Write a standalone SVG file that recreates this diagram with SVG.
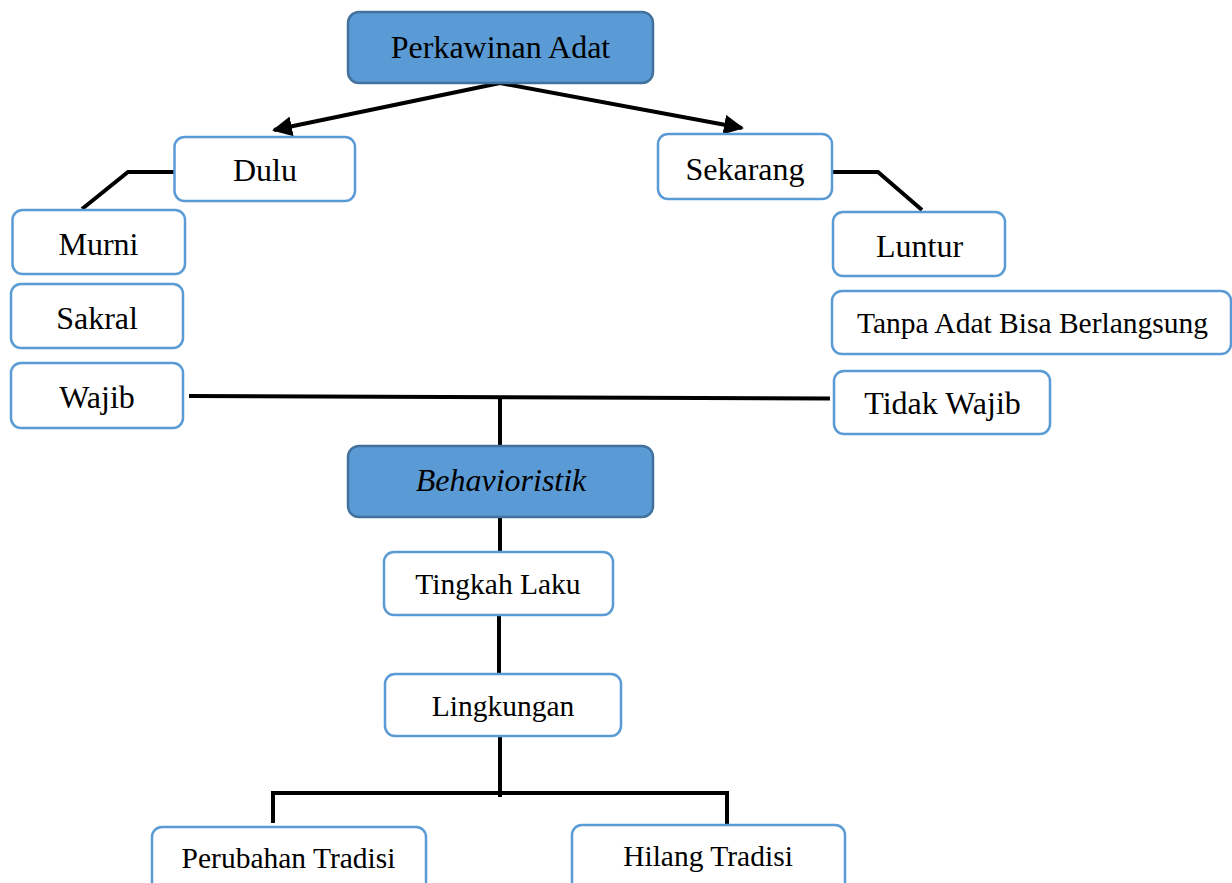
<svg xmlns="http://www.w3.org/2000/svg" width="1232" height="883" viewBox="0 0 1232 883">
<style>
.box{fill:#ffffff;stroke:#5B9BD5;stroke-width:2.5}
.main{fill:#5B9BD5;stroke:#41719C;stroke-width:2.5}
.lg{font-family:"Liberation Serif","Times New Roman",serif;font-size:32px;fill:#000;text-anchor:middle}
.sm{font-family:"Liberation Serif","Times New Roman",serif;font-size:29.5px;fill:#000;text-anchor:middle}
.ln{stroke:#000;stroke-width:4;fill:none}
</style>
<defs>
<marker id="ah" viewBox="0 0 10 10" refX="9" refY="5" markerWidth="5" markerHeight="5" markerUnits="strokeWidth" orient="auto">
<path d="M0,0 L10,5 L0,10 z" fill="#000"/>
</marker>
</defs>
<g id="connectors">
<line class="ln" x1="500" y1="83" x2="274" y2="130" marker-end="url(#ah)"/>
<line class="ln" x1="500" y1="83" x2="742" y2="128" marker-end="url(#ah)"/>
<polyline class="ln" points="175,172 128,172 82,209"/>
<polyline class="ln" points="832,172 878,172 922,210"/>
<line class="ln" x1="189" y1="396" x2="830" y2="398.5"/>
<line class="ln" x1="500" y1="396" x2="500" y2="447"/>
<line class="ln" x1="500" y1="517" x2="500" y2="553"/>
<line class="ln" x1="499" y1="615" x2="499" y2="675"/>
<line class="ln" x1="500" y1="736" x2="500" y2="797"/>
<polyline class="ln" points="273,823 273,793 727,793 727,824"/>
</g>
<g id="perkawinan-adat">
<rect class="main" x="348" y="12" width="305" height="71" rx="11"/>
<text class="lg" x="500.5" y="58">Perkawinan Adat</text>
</g>
<g id="dulu">
<rect class="box" x="174.5" y="137" width="180.5" height="64" rx="10"/>
<text class="lg" x="265" y="181">Dulu</text>
</g>
<g id="murni">
<rect class="box" x="12.5" y="210" width="172.5" height="64" rx="10"/>
<text class="lg" x="98.5" y="255">Murni</text>
</g>
<g id="sakral">
<rect class="box" x="11" y="284" width="172" height="64" rx="10"/>
<text class="lg" x="97" y="329">Sakral</text>
</g>
<g id="wajib">
<rect class="box" x="11" y="363" width="172" height="65" rx="10"/>
<text class="lg" x="97" y="408">Wajib</text>
</g>
<g id="sekarang">
<rect class="box" x="658" y="134" width="174" height="65" rx="10"/>
<text class="lg" x="745" y="180">Sekarang</text>
</g>
<g id="luntur">
<rect class="box" x="833" y="212" width="172" height="64" rx="10"/>
<text class="lg" x="919.5" y="257">Luntur</text>
</g>
<g id="tanpa-adat">
<rect class="box" x="832" y="291" width="399" height="63" rx="10"/>
<text class="sm" x="1032.5" y="333">Tanpa Adat Bisa Berlangsung</text>
</g>
<g id="tidak-wajib">
<rect class="box" x="834" y="371" width="216" height="63" rx="10"/>
<text class="lg" x="942.5" y="414">Tidak Wajib</text>
</g>
<g id="behavioristik">
<rect class="main" x="348" y="446" width="305" height="71" rx="11"/>
<text class="lg" x="501" y="491" font-style="italic">Behavioristik</text>
</g>
<g id="tingkah-laku">
<rect class="box" x="384" y="552" width="229" height="63" rx="10"/>
<text class="sm" x="498" y="594">Tingkah Laku</text>
</g>
<g id="lingkungan">
<rect class="box" x="385" y="674" width="236" height="62" rx="10"/>
<text class="sm" x="503" y="716">Lingkungan</text>
</g>
<g id="perubahan-tradisi">
<rect class="box" x="152" y="827" width="274" height="70" rx="10"/>
<text class="sm" x="288.5" y="868">Perubahan Tradisi</text>
</g>
<g id="hilang-tradisi">
<rect class="box" x="572" y="825" width="273" height="72" rx="10"/>
<text class="sm" x="708" y="866">Hilang Tradisi</text>
</g>
</svg>
